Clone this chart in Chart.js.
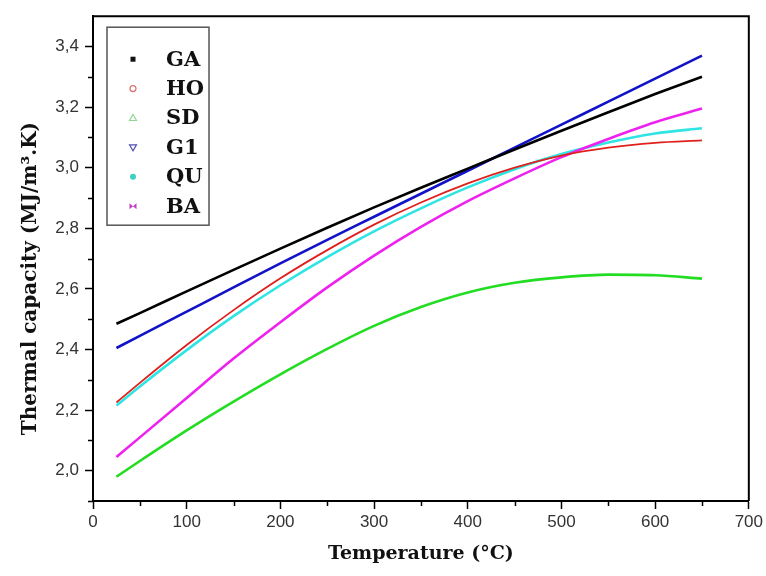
<!DOCTYPE html>
<html>
<head>
<meta charset="utf-8">
<title>Thermal capacity vs temperature</title>
<script src="https://cdn.jsdelivr.net/npm/chart.js@4.4.1/dist/chart.umd.min.js"></script>
<style>
    html, body { margin: 0; padding: 0; background: #fff; }
    #wrap { width: 766px; height: 576px; }
</style>
</head>
<body>
<div id="wrap"><canvas id="capacityChart" width="766" height="576"></canvas></div>
<script>
// sample temperatures (°C)
const temperatures = [25, 50, 100, 150, 200, 250, 300, 350, 400, 450, 500, 550, 600, 650];

// thermal capacity (MJ/m3.K) of each sample
const capGA = [2.485, 2.52, 2.592, 2.663, 2.733, 2.802, 2.869, 2.934, 2.997, 3.06, 3.122, 3.183, 3.243, 3.30];
const capHO = [2.225, 2.29, 2.415, 2.53, 2.635, 2.728, 2.812, 2.885, 2.948, 3.0, 3.04, 3.066, 3.082, 3.09];
const capSD = [1.98, 2.032, 2.133, 2.228, 2.318, 2.402, 2.478, 2.54, 2.588, 2.62, 2.638, 2.647, 2.645, 2.634];
const capG1 = [2.405, 2.445, 2.525, 2.605, 2.684, 2.762, 2.838, 2.914, 2.99, 3.066, 3.142, 3.218, 3.294, 3.37];
const capQU = [2.215, 2.278, 2.398, 2.51, 2.612, 2.705, 2.79, 2.866, 2.935, 2.995, 3.045, 3.083, 3.113, 3.13];
const capBA = [2.045, 2.11, 2.24, 2.37, 2.49, 2.605, 2.71, 2.805, 2.89, 2.965, 3.035, 3.095, 3.15, 3.195];

const seriesNames = ['GA', 'HO', 'SD', 'G1', 'QU', 'BA'];
const seriesColors = ['#000000', '#e0201c', '#22dd22', '#1212c8', '#30e4e4', '#ee22ee'];
const markerColors = ['#111111', '#e07070', '#90d890', '#5050b0', '#40d0c0', '#c040c0'];
const markerShapes = ['square', 'circle', 'triangle', 'triangleDown', 'dot', 'bowtie'];

// axis ticks
const xTickValues = [0, 100, 200, 300, 400, 500, 600, 700];
const xMinorTicks = [50, 150, 250, 350, 450, 550, 650];
const yTickValues = [2.0, 2.2, 2.4, 2.6, 2.8, 3.0, 3.2, 3.4];
const yTickLabels = ['2,0', '2,2', '2,4', '2,6', '2,8', '3,0', '3,2', '3,4'];
const yMinorTicks = [1.9, 2.1, 2.3, 2.5, 2.7, 2.9, 3.1, 3.3];

const titleFont = 'bold 20px "DejaVu Serif", "Liberation Serif", serif';
const tickFont = { family: '"Liberation Sans Narrow", "Liberation Sans", Arial, sans-serif', size: 17 };

const curves = [capGA, capHO, capSD, capG1, capQU, capBA];
const drawOrder = [2, 0, 5, 3, 4, 1];

const datasets = seriesNames.map((name, i) => ({
    label: name,
    data: temperatures.map((t, j) => ({ x: t, y: curves[i][j] })),
    borderColor: seriesColors[i],
    backgroundColor: seriesColors[i],
    borderWidth: name === 'HO' ? 1.8 : 2.6,
    pointRadius: 0,
    fill: false,
    cubicInterpolationMode: 'monotone',
    order: drawOrder[i]
}));

// top/right edges of the frame and the small in-between ticks
const frameAndMinorTicks = {
    id: 'frameAndMinorTicks',
    afterDraw(chart) {
        const { ctx, chartArea: a, scales: { x, y } } = chart;
        ctx.save();
        ctx.strokeStyle = '#000';
        ctx.lineWidth = 2;
        ctx.beginPath();
        ctx.moveTo(a.left, a.top);
        ctx.lineTo(a.right, a.top);
        ctx.lineTo(a.right, a.bottom);
        ctx.stroke();

        ctx.lineWidth = 1.5;
        ctx.beginPath();
        xMinorTicks.forEach(v => {
            const px = Math.round(x.getPixelForValue(v)) + 0.5;
            ctx.moveTo(px, a.bottom);
            ctx.lineTo(px, a.bottom + 5);
        });
        yMinorTicks.forEach(v => {
            const py = Math.round(y.getPixelForValue(v)) + 0.5;
            ctx.moveTo(a.left, py);
            ctx.lineTo(a.left - 5, py);
        });
        ctx.stroke();
        ctx.restore();
    }
};

// vertical axis title, drawn by hand so it can sit a bit lower than centre
const yAxisTitle = {
    id: 'yAxisTitle',
    afterDraw(chart) {
        const { ctx, chartArea: a } = chart;
        ctx.save();
        ctx.translate(31, (a.top + a.bottom) / 2 + 20);
        ctx.rotate(-Math.PI / 2);
        ctx.font = titleFont;
        ctx.fillStyle = '#111';
        ctx.textAlign = 'center';
        ctx.textBaseline = 'middle';
        ctx.fillText('Thermal capacity (MJ/m³.K)', 0, 0);
        ctx.restore();
    }
};

function drawMarker(ctx, shape, cx, cy, color) {
    ctx.save();
    ctx.strokeStyle = color;
    ctx.fillStyle = color;
    ctx.lineWidth = 1.2;
    ctx.beginPath();
    switch (shape) {
        case 'square':
            ctx.fillRect(cx - 2.5, cy - 2.5, 5, 5);
            break;
        case 'circle':
            ctx.arc(cx, cy, 3, 0, Math.PI * 2);
            ctx.stroke();
            break;
        case 'triangle':
            ctx.moveTo(cx, cy - 3.5);
            ctx.lineTo(cx + 3.5, cy + 2.5);
            ctx.lineTo(cx - 3.5, cy + 2.5);
            ctx.closePath();
            ctx.stroke();
            break;
        case 'triangleDown':
            ctx.moveTo(cx - 3.5, cy - 2.5);
            ctx.lineTo(cx + 3.5, cy - 2.5);
            ctx.lineTo(cx, cy + 3.5);
            ctx.closePath();
            ctx.stroke();
            break;
        case 'dot':
            ctx.arc(cx, cy, 3, 0, Math.PI * 2);
            ctx.fill();
            break;
        case 'bowtie':
            ctx.moveTo(cx - 3.5, cy - 3);
            ctx.lineTo(cx + 3.5, cy + 3);
            ctx.lineTo(cx + 3.5, cy - 3);
            ctx.lineTo(cx - 3.5, cy + 3);
            ctx.closePath();
            ctx.fill();
            break;
    }
    ctx.restore();
}

// boxed legend in the upper left corner of the plot
const boxedLegend = {
    id: 'boxedLegend',
    afterDraw(chart) {
        const { ctx, chartArea: a } = chart;
        const left = a.left + 14;
        const top = a.top + 11;
        const rowGap = 29.4;
        ctx.save();
        ctx.strokeStyle = '#555';
        ctx.lineWidth = 1.5;
        ctx.strokeRect(left, top, 102, 198);
        ctx.font = 'bold 21px "DejaVu Serif", "Liberation Serif", serif';
        ctx.fillStyle = '#111';
        ctx.textBaseline = 'middle';
        seriesNames.forEach((name, i) => {
            const rowY = top + 32 + i * rowGap;
            drawMarker(ctx, markerShapes[i], left + 26, rowY, markerColors[i]);
            ctx.fillText(name, left + 59, rowY + 1);
        });
        ctx.restore();
    }
};

const ctx = document.getElementById('capacityChart').getContext('2d');
new Chart(ctx, {
    type: 'line',
    data: { datasets: datasets },
    options: {
        responsive: false,
        animation: false,
        devicePixelRatio: 1,
        layout: { padding: { top: 12, right: 17, left: 0, bottom: 0 } },
        plugins: {
            legend: { display: false },
            tooltip: { enabled: false }
        },
        scales: {
            x: {
                type: 'linear',
                min: 0,
                max: 700,
                afterFit: scale => { scale.height = 75; },
                afterBuildTicks: scale => { scale.ticks = xTickValues.map(v => ({ value: v })); },
                grid: {
                    drawOnChartArea: false,
                    drawTicks: true,
                    tickLength: 8,
                    tickColor: '#000',
                    tickWidth: 1.5
                },
                border: { display: true, color: '#000', width: 2 },
                ticks: {
                    color: '#333',
                    font: tickFont,
                    padding: 3,
                    maxRotation: 0,
                    callback: v => String(v)
                },
                title: {
                    display: true,
                    text: 'Temperature (°C)',
                    color: '#111',
                    font: { family: '"DejaVu Serif", "Liberation Serif", serif', size: 19, weight: 'bold' },
                    padding: { top: 0, bottom: 11 }
                }
            },
            y: {
                type: 'linear',
                min: 1.9,
                max: 3.5,
                afterFit: scale => { scale.width = 93; },
                afterBuildTicks: scale => { scale.ticks = yTickValues.map(v => ({ value: v })); },
                grid: {
                    drawOnChartArea: false,
                    drawTicks: true,
                    tickLength: 8,
                    tickColor: '#000',
                    tickWidth: 1.5
                },
                border: { display: true, color: '#000', width: 2 },
                ticks: {
                    color: '#333',
                    font: tickFont,
                    padding: 6,
                    callback: v => yTickLabels[yTickValues.findIndex(t => Math.abs(t - v) < 1e-6)] ?? ''
                },
                title: { display: false }
            }
        }
    },
    plugins: [frameAndMinorTicks, yAxisTitle, boxedLegend]
});
</script>
</body>
</html>
